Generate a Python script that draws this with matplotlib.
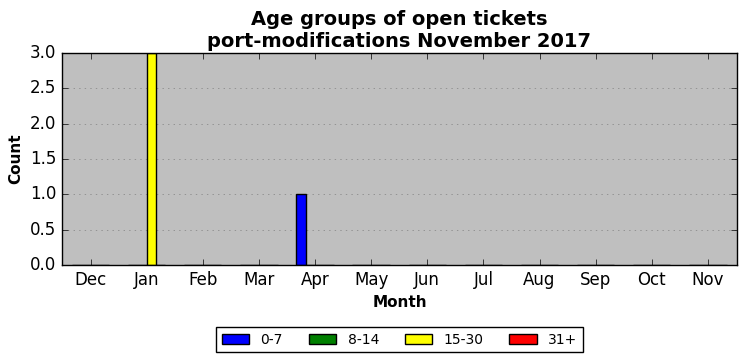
import numpy as np
import matplotlib
matplotlib.use("Agg")
import matplotlib.pyplot as plt

plt.style.use('classic')

months = ['Dec', 'Jan', 'Feb', 'Mar', 'Apr', 'May', 'Jun', 'Jul', 'Aug', 'Sep', 'Oct', 'Nov']
groups = ['0-7', '8-14', '15-30', '31+']
colors = ['blue', 'green', 'yellow', 'red']
age_0_7 = [0, 0, 0, 0, 1, 0, 0, 0, 0, 0, 0, 0]
age_8_14 = [0, 0, 0, 0, 0, 0, 0, 0, 0, 0, 0, 0]
age_15_30 = [0, 3, 0, 0, 0, 0, 0, 0, 0, 0, 0, 0]
age_31 = [0, 0, 0, 0, 0, 0, 0, 0, 0, 0, 0, 0]
series = [age_0_7, age_8_14, age_15_30, age_31]

fig = plt.figure(figsize=(7.46, 3.61), dpi=100, facecolor='white')
ax = fig.add_subplot(111)
ax.set_facecolor('#bfbfbf')
fig.subplots_adjust(left=0.083, right=0.988, top=0.853, bottom=0.266)

x = np.arange(len(months))
w = 1.0 / 6
for i, (vals, lab, c) in enumerate(zip(series, groups, colors)):
    ax.bar(x + (i - 2) * w, vals, width=w, align='edge', color=c,
           edgecolor='black', label=lab)

ax.set_xticks(x)
ax.set_xticklabels(months)
ax.set_xlim(-0.51, 11.52)
ax.set_ylim(0, 3.0)
ax.set_yticks(np.arange(0, 3.01, 0.5))
ax.yaxis.grid(True, linestyle=':', color='0.5')
ax.set_axisbelow(True)
ax.tick_params(labelsize=12)

ax.set_xlabel('Month', fontsize=11, fontweight='bold')
ax.set_ylabel('Count', fontsize=11, fontweight='bold')
ax.set_title('Age groups of open tickets\nport-modifications November 2017',
             fontsize=14, fontweight='bold', y=0.995)

ax.legend(loc='upper center', bbox_to_anchor=(0.5, -0.26), ncol=4,
          fontsize=10, numpoints=1, handlelength=2.0, columnspacing=1.85)

fig.savefig('out.png', dpi=100, facecolor='white')
